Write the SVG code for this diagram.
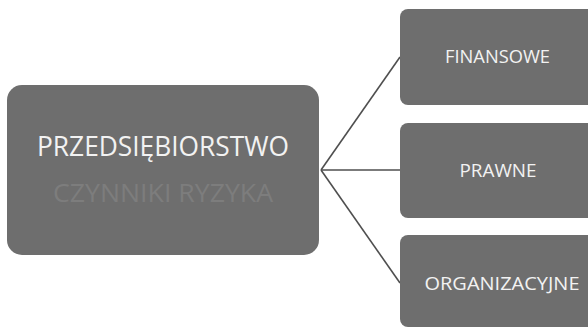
<svg xmlns="http://www.w3.org/2000/svg" width="588" height="328" viewBox="0 0 588 328">
<style>
.box{fill:#6e6e6e;}
.t{font-family:"Open Sans","Liberation Sans",sans-serif;text-anchor:middle;fill:#f2f2f2;}
.conn{stroke:#4f4f4f;stroke-width:1.6;fill:none;}
</style>
<rect width="588" height="328" fill="#ffffff"/>
<g id="connectors">
<line class="conn" x1="321" y1="170" x2="400" y2="57"/>
<line class="conn" x1="321" y1="170" x2="400" y2="170"/>
<line class="conn" x1="321" y1="170" x2="400" y2="283"/>
</g>
<g id="main">
<rect class="box" x="7" y="85" width="312" height="170" rx="15"/>
<text class="t" x="163" y="155.5" font-size="27.5" textLength="252" lengthAdjust="spacingAndGlyphs">PRZEDSIĘBIORSTWO</text>
<text class="t" x="163" y="202" font-size="26" style="fill:#7d7d7d" textLength="220" lengthAdjust="spacingAndGlyphs">CZYNNIKI RYZYKA</text>
</g>
<g id="finansowe">
<rect class="box" x="400" y="9" width="200" height="96" rx="8"/>
<text class="t" x="497.5" y="62.7" font-size="18.5" textLength="105" lengthAdjust="spacingAndGlyphs">FINANSOWE</text>
</g>
<g id="prawne">
<rect class="box" x="400" y="123" width="200" height="95" rx="8"/>
<text class="t" x="498" y="177" font-size="18.5" textLength="77" lengthAdjust="spacingAndGlyphs">PRAWNE</text>
</g>
<g id="organizacyjne">
<rect class="box" x="400" y="235" width="200" height="92" rx="8"/>
<text class="t" x="502" y="290" font-size="18.5" textLength="155" lengthAdjust="spacingAndGlyphs">ORGANIZACYJNE</text>
</g>
</svg>
